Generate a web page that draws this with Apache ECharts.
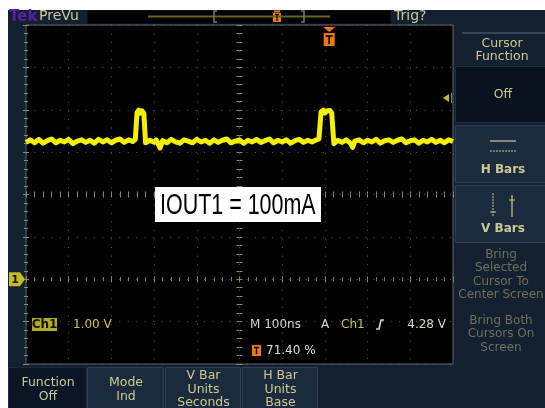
<!DOCTYPE html>
<html><head><meta charset="utf-8">
<script src="https://cdn.jsdelivr.net/npm/echarts@6/dist/echarts.min.js"></script>
<style>html,body{margin:0;padding:0;background:#fff}#c{width:545px;height:408px}</style>
</head><body><div id="c"></div>
<script>
// ---- data (1.00 V/div, 100 ns/div, 10 x 8 divisions) ----
const timeNs = [
  0,10,20,30,40,50,60,70,80,90,
  100,110,120,130,140,150,160,170,180,190,
  200,210,220,230,240,250,256,259,260,264,
  268,272,276,279,280,283,290,300,305,314,
  320,330,340,350,360,370,380,390,400,410,
  420,430,440,450,460,470,480,490,500,510,
  520,530,540,550,560,570,580,590,600,610,
  620,630,640,650,660,670,680,686,690,691,
  696,700,704,708,712,716,720,721,724,730,
  740,750,760,765,770,780,790,800,810,820,
  830,840,850,860,870,880,890,900,910,920,
  930,940,950,960,970,980,990,1000];
const ch1Volts = [
  3.23,3.29,3.22,3.30,3.21,3.27,3.31,3.22,3.28,3.24,
  3.30,3.20,3.26,3.29,3.23,3.28,3.21,3.30,3.24,3.29,
  3.22,3.28,3.31,3.23,3.29,3.25,3.30,3.27,3.93,3.99,
  3.92,3.97,3.91,3.95,3.22,3.18,3.28,3.23,3.29,3.10,
  3.27,3.22,3.30,3.24,3.21,3.29,3.26,3.22,3.30,3.24,
  3.28,3.21,3.29,3.23,3.28,3.31,3.22,3.26,3.29,3.21,
  3.28,3.24,3.30,3.23,3.27,3.31,3.22,3.28,3.24,3.29,
  3.21,3.27,3.30,3.23,3.28,3.24,3.29,3.31,3.27,3.95,
  3.99,3.92,3.97,3.93,3.98,3.92,3.96,3.20,3.24,3.28,
  3.23,3.29,3.21,3.11,3.26,3.29,3.22,3.28,3.24,3.30,
  3.21,3.27,3.29,3.23,3.28,3.31,3.22,3.27,3.29,3.21,
  3.28,3.24,3.30,3.23,3.28,3.22,3.29,3.25];
const xRangeNs = [0, 1000];      // 10 divisions x 100 ns
const yRangeV = [-2, 6];         // 8 divisions x 1 V, ground at 0 V
const triggerLevelV = 4.28;
const triggerPosNs = 710;
const annotation = 'IOUT1 = 100mA';
const rightMenuTitle = ['Cursor', 'Function'];
const rightButtons = ['Off', 'H Bars', 'V Bars'];
const rightGrey1 = ['Bring', 'Selected', 'Cursor To', 'Center Screen'];
const rightGrey2 = ['Bring Both', 'Cursors On', 'Screen'];
const bottomButtons = [['Function', 'Off'], ['Mode', 'Ind'], ['V Bar', 'Units', 'Seconds'], ['H Bar', 'Units', 'Base']];
const statusLeft = ['Ch1', '1.00 V'];
const statusRight = ['M 100ns', 'A', 'Ch1', '4.28 V'];
const triggerPercent = '71.40 %';

const NAVY = '#13202f', KHAKI = '#cdc995', GREY = '#6d705f', BTN = '#1b2a3c', BTNB = '#2e3f53';
const UIF = '"DejaVu Sans", sans-serif';
const chart = echarts.init(document.getElementById('c'), null, {renderer: 'canvas'});

function xAx(pos, extra) {
  return Object.assign({type: 'value', min: xRangeNs[0], max: xRangeNs[1], interval: 100, position: pos,
    axisLabel: {show: false}, splitLine: {show: false},
    axisLine: {show: false}, axisTick: {show: true, inside: true, length: 3, lineStyle: {color: '#8c8a70'}},
    minorTick: {show: true, splitNumber: 5, length: 2, lineStyle: {color: '#8c8a70'}}}, extra || {});
}
function yAx(pos, extra) {
  return Object.assign({type: 'value', min: yRangeV[0], max: yRangeV[1], interval: 1, position: pos,
    axisLabel: {show: false}, splitLine: {show: false},
    axisLine: {show: false}, axisTick: {show: true, inside: true, length: 3, lineStyle: {color: '#8c8a70'}},
    minorTick: {show: true, splitNumber: 5, length: 2, lineStyle: {color: '#8c8a70'}}}, extra || {});
}
const CX = -169.5, CY = -213.5;
const cTick = (inside) => ({axisTick: {show: true, inside: inside, length: 3, lineStyle: {color: '#8c8a70'}}, minorTick: {show: true, splitNumber: 5, length: 3, lineStyle: {color: '#8c8a70'}}});
const option = {
  backgroundColor: NAVY,
  animation: false,
  grid: {left: 26, top: 25, width: 427, height: 339, show: true, backgroundColor: '#000', borderColor: '#5c6670', borderWidth: 1},
  xAxis: [
    xAx('bottom', {splitLine: {show: true, lineStyle: {color: '#5a5a52', width: 1, type: [1, 7.54]}}}),
    xAx('top'),
    xAx('bottom', Object.assign({offset: CX}, cTick(true))),
    xAx('bottom', Object.assign({offset: CX}, cTick(false)))
  ],
  yAxis: [
    yAx('left', {splitLine: {show: true, lineStyle: {color: '#5a5a52', width: 1, type: [1, 7.48]}}}),
    yAx('right'),
    yAx('left', Object.assign({offset: CY}, cTick(true))),
    yAx('left', Object.assign({offset: CY}, cTick(false)))
  ],
  series: [{
    type: 'line', xAxisIndex: 0, yAxisIndex: 0, showSymbol: false, z: 5,
    data: timeNs.map((t, i) => [t, ch1Volts[i]]),
    lineStyle: {color: '#f4f000', width: 5, join: 'round', cap: 'butt'}
  }]
};
chart.setOption(option);

const P = (t, v) => chart.convertToPixel({gridIndex: 0}, [t, v]);
const g = [];
const txt = (s, x, y, o) => g.push(Object.assign({type: 'text', x: x, y: y, z: 50,
  style: Object.assign({text: s, fill: KHAKI, font: '12px ' + UIF, textAlign: 'center', textVerticalAlign: 'middle'}, (o && o.style) || {})}, o ? {scaleX: o.scaleX || 1} : {}));
const rect = (x, y, w, h, fill, stroke) => g.push({type: 'rect', z: 40, shape: {x: x, y: y, width: w, height: h},
  style: {fill: fill, stroke: stroke || null, lineWidth: 1}});
const line = (x1, y1, x2, y2, c, w, dash) => g.push({type: 'line', z: 45, shape: {x1: x1, y1: y1, x2: x2, y2: y2},
  style: {stroke: c, lineWidth: w || 1, lineDash: dash || null}});

// white margins of the screenshot
rect(0, 0, 545, 10, '#fff');
rect(0, 0, 8, 408, '#fff');

// top bar
txt('Tek', 9, 17, {style: {textAlign: 'left', fill: '#5a1ea8', font: 'bold 15px ' + UIF}});
txt('PreVu', 39, 16.5, {style: {textAlign: 'left', font: '14px ' + UIF}});
rect(87.5, 10.5, 303, 13, '#000');
line(148, 16.5, 330, 16.5, '#67661c', 2);
g.push({type: 'polyline', z: 45, shape: {points: [[217, 11], [214, 11], [214, 22], [217, 22]]}, style: {stroke: '#7a7a68', lineWidth: 1.5, fill: null}});
g.push({type: 'polyline', z: 45, shape: {points: [[301, 11], [304, 11], [304, 22], [301, 22]]}, style: {stroke: '#7a7a68', lineWidth: 1.5, fill: null}});
rect(273, 13, 8, 9, '#f07810');
rect(274, 10.5, 6, 2, '#f07810');
line(275, 14.5, 279, 14.5, '#000', 1.2);
line(277, 14.5, 277, 21, '#000', 1.2);
txt('Trig?', 394, 16.5, {style: {textAlign: 'left', font: '14px ' + UIF}});

// trigger position marker (top of graticule)
const tp = P(triggerPosNs, yRangeV[1]);
g.push({type: 'polygon', z: 46, shape: {points: [[tp[0] - 6, tp[1] + 2], [tp[0] + 6, tp[1] + 2], [tp[0], tp[1] + 7]]}, style: {fill: '#f07810'}});
rect(tp[0] - 5.5, tp[1] + 8, 11, 13, '#f07810');
line(tp[0] - 3.5, tp[1] + 11, tp[0] + 3.5, tp[1] + 11, '#000', 1.6);
line(tp[0], tp[1] + 11, tp[0], tp[1] + 19, '#000', 1.6);

// trigger level arrow (right edge)
const tl = P(xRangeNs[1], triggerLevelV);
g.push({type: 'polygon', z: 46, shape: {points: [[tl[0] - 10, tl[1]], [tl[0] - 4, tl[1] - 4], [tl[0] - 4, tl[1] + 4]]}, style: {fill: '#c8bc28'}});
line(tl[0] - 1.5, tl[1] - 5, tl[0] - 1.5, tl[1] + 5, '#8c8a50', 1);

// channel 1 ground marker
const gm = P(xRangeNs[0], 0);
g.push({type: 'polygon', z: 46, shape: {points: [[gm[0] - 17, gm[1] - 7], [gm[0] - 6, gm[1] - 7], [gm[0] - 1, gm[1]], [gm[0] - 6, gm[1] + 7], [gm[0] - 17, gm[1] + 7]]}, style: {fill: '#c4ba2a'}});
txt('1', gm[0] - 11, gm[1] + 0.5, {style: {fill: '#1a1800', font: 'bold 11px ' + UIF}});

// annotation box
rect(155, 187, 166, 35, '#fff');
g.push({type: 'text', x: 160, y: 205.5, z: 50, scaleX: 0.74,
  style: {text: annotation, fill: '#000', font: '29px "Liberation Sans", Arial, sans-serif', textAlign: 'left', textVerticalAlign: 'middle'}});

// status readouts inside graticule
rect(32, 318, 25, 13, '#b4ac22');
txt(statusLeft[0], 44.5, 324.5, {style: {fill: '#101000', font: 'bold 12px ' + UIF}});
txt(statusLeft[1], 73, 324.5, {style: {textAlign: 'left', fill: '#cfc544', font: '12px ' + UIF}});
txt(statusRight[0], 250, 324.5, {style: {textAlign: 'left', fill: '#d8d6c4', font: '12px ' + UIF}});
txt(statusRight[1], 321, 324.5, {style: {textAlign: 'left', fill: '#d8d6c4', font: '12px ' + UIF}});
txt(statusRight[2], 341, 324.5, {style: {textAlign: 'left', fill: '#cfc544', font: '12px ' + UIF}});
g.push({type: 'polyline', z: 45, shape: {points: [[376, 329], [379, 329], [381, 320], [384, 320]]}, style: {stroke: '#d8d6c4', lineWidth: 1.6, fill: null}});
txt(statusRight[3], 446, 324.5, {style: {textAlign: 'right', fill: '#d8d6c4', font: '12px ' + UIF}});
rect(252, 345, 9, 11, '#f07810');
line(254, 347.5, 259, 347.5, '#000', 1.4);
line(256.5, 347.5, 256.5, 354, '#000', 1.4);
txt(triggerPercent, 266, 351, {style: {textAlign: 'left', fill: '#e0dfd2', font: '12px ' + UIF}});

// right menu
line(462, 33, 545, 33, '#35465a', 2);
txt(rightMenuTitle[0], 502, 44, {style: {font: '12.5px ' + UIF}});
txt(rightMenuTitle[1], 502, 57, {style: {font: '12.5px ' + UIF}});
rect(455.5, 66.5, 92, 56, '#08131f', '#1f3044');
txt(rightButtons[0], 503, 95, {style: {font: '12.5px ' + UIF}});
rect(455.5, 125.5, 92, 57, BTN, BTNB);
line(490, 141, 516, 141, KHAKI, 1.2);
line(490, 151, 516, 151, KHAKI, 1, [2, 1]);
txt(rightButtons[1], 503, 170, {style: {font: 'bold 12px ' + UIF}});
rect(455.5, 185.5, 92, 57, BTN, BTNB);
line(493, 193, 493, 217, KHAKI, 1, [2, 1]);
line(490, 212, 496, 212, KHAKI, 1);
line(512, 195, 512, 217, KHAKI, 1.2);
line(509, 200, 515, 200, KHAKI, 1);
txt(rightButtons[2], 503, 229, {style: {font: 'bold 12px ' + UIF}});
rightGrey1.forEach((s, i) => txt(s, 501, 255 + i * 13.2, {style: {fill: GREY, font: '12px ' + UIF}}));
rightGrey2.forEach((s, i) => txt(s, 501, 321 + i * 13.2, {style: {fill: GREY, font: '12px ' + UIF}}));

// bottom menu
const bx = [[8, 78], [87, 76], [165, 75], [242, 75]];
bottomButtons.forEach((lines, i) => {
  const [x, w] = bx[i];
  rect(x + 0.5, 367.5, w, 45, i === 0 ? '#0a1626' : BTN, i === 0 ? '#1c2c3e' : BTNB);
  const cx = x + w / 2;
  const ys = lines.length === 2 ? [383, 397] : [376, 390, 403];
  lines.forEach((s, j) => txt(s, cx + 1, ys[j], {style: {font: '12.5px ' + UIF}}));
});

chart.setOption({graphic: {elements: g}});
</script></body></html>
